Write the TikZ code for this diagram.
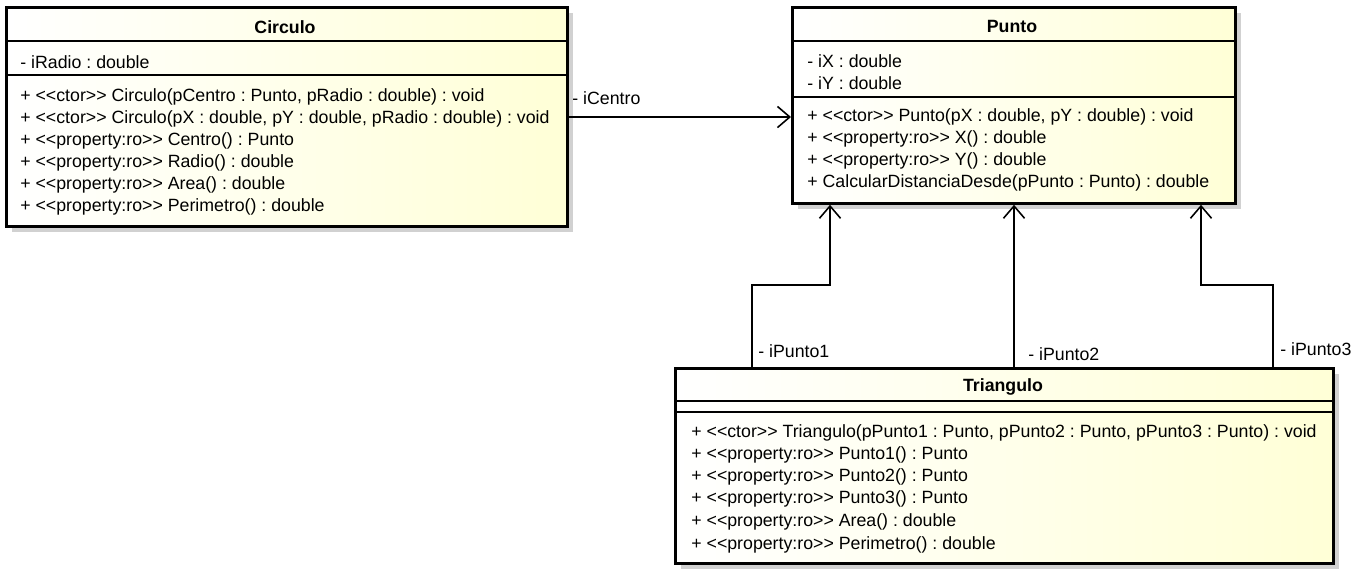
\documentclass[tikz,border=0pt]{standalone}
\usepackage{fontspec}
\setmainfont{Liberation Sans}[Ligatures=TeXOff]
\usetikzlibrary{arrows.meta,shadows}
\frenchspacing

\tikzset{
    classbox/.style={draw, line width=1.6pt, anchor=north west, inner sep=0pt,
        left color=white, right color=yellow!16,
        drop shadow={shadow xshift=.12cm, shadow yshift=-.12cm, fill=black!18, opacity=1}},
    sep/.style={line width=.9pt},
    member/.style={anchor=west, inner sep=0pt, yshift=-1pt, font=\fontsize{10.1}{11}\selectfont},
    classname/.style={inner sep=0pt, yshift=-1pt, font=\fontsize{10.1}{11}\selectfont\bfseries},
    assoc/.style={-{Straight Barb[length=7pt,width=12pt,line width=.9pt]}, line width=.9pt},
}

\begin{document}
\begin{tikzpicture}[x=.02cm, y=-.02cm]
\useasboundingbox (0,0) rectangle (1355,576);

% Circulo
\node[classbox, minimum width=11.22cm, minimum height=4.38cm] (circulo) at (5,6) {};
\node[classname] (circulo-name) at (285,25) {Circulo};
\draw[sep] (circulo.west |- 0,41) -- (circulo.east |- 0,41);
\draw[sep] (circulo.west |- 0,75) -- (circulo.east |- 0,75);
\node[member] (circulo-a1) at (20,60) {- iRadio : double};
\node[member] (circulo-m1) at (20,95) {+ <<ctor>> Circulo(pCentro : Punto, pRadio : double) : void};
\node[member] (circulo-m2) at (20,117) {+ <<ctor>> Circulo(pX : double, pY : double, pRadio : double) : void};
\node[member] (circulo-m3) at (20,139) {+ <<property:ro>> Centro() : Punto};
\node[member] (circulo-m4) at (20,161) {+ <<property:ro>> Radio() : double};
\node[member] (circulo-m5) at (20,183) {+ <<property:ro>> Area() : double};
\node[member] (circulo-m6) at (20,205) {+ <<property:ro>> Perimetro() : double};

% Punto
\node[classbox, minimum width=8.86cm, minimum height=3.92cm] (punto) at (791,6) {};
\node[classname] (punto-name) at (1012,25) {Punto};
\draw[sep] (punto.west |- 0,41) -- (punto.east |- 0,41);
\draw[sep] (punto.west |- 0,97) -- (punto.east |- 0,97);
\node[member] (punto-a1) at (807,59) {- iX : double};
\node[member] (punto-a2) at (807,81) {- iY : double};
\node[member] (punto-m1) at (807,115) {+ <<ctor>> Punto(pX : double, pY : double) : void};
\node[member] (punto-m2) at (807,137) {+ <<property:ro>> X() : double};
\node[member] (punto-m3) at (807,159) {+ <<property:ro>> Y() : double};
\node[member] (punto-m4) at (807,181) {+ CalcularDistanciaDesde(pPunto : Punto) : double};

% Triangulo
\node[classbox, minimum width=13.16cm, minimum height=3.9cm] (tri) at (674,367) {};
\node[classname] (tri-name) at (1003,385) {Triangulo};
\draw[sep] (tri.west |- 0,401) -- (tri.east |- 0,401);
\draw[sep] (tri.west |- 0,412) -- (tri.east |- 0,412);
\node[member] (tri-m1) at (691,431) {+ <<ctor>> Triangulo(pPunto1 : Punto, pPunto2 : Punto, pPunto3 : Punto) : void};
\node[member] (tri-m2) at (691,453) {+ <<property:ro>> Punto1() : Punto};
\node[member] (tri-m3) at (691,475) {+ <<property:ro>> Punto2() : Punto};
\node[member] (tri-m4) at (691,497) {+ <<property:ro>> Punto3() : Punto};
\node[member] (tri-m5) at (691,520) {+ <<property:ro>> Area() : double};
\node[member] (tri-m6) at (691,543) {+ <<property:ro>> Perimetro() : double};

% associations
\draw[assoc] (circulo.east |- 0,117) -- (punto.west |- 0,117);
\node[member] (lbl-centro) at (572,96) {- iCentro};

\draw[assoc] (tri.north -| 752,0) |- (830,285) -- (punto.south -| 830,0);
\node[member] (lbl-p1) at (758,349) {- iPunto1};

\draw[assoc] (tri.north -| 1014,0) -- (punto.south -| 1014,0);
\node[member] (lbl-p2) at (1028,352) {- iPunto2};

\draw[assoc] (tri.north -| 1273,0) |- (1201,285) -- (punto.south -| 1201,0);
\node[member] (lbl-p3) at (1280,347) {- iPunto3};

\end{tikzpicture}
\end{document}
